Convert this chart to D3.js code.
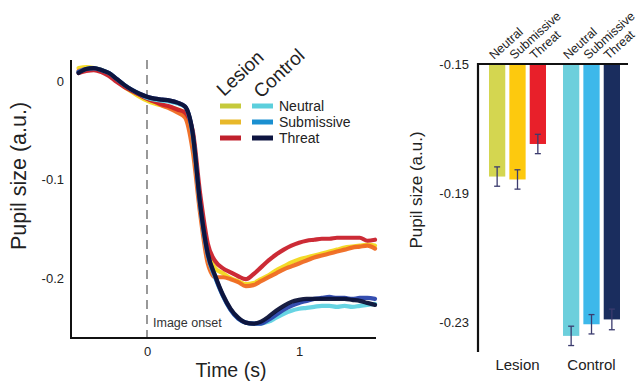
<!DOCTYPE html>
<html>
<head>
<meta charset="utf-8">
<script src="https://cdn.jsdelivr.net/npm/d3@7"></script>
<style>
  html, body { margin: 0; padding: 0; background: #fff; }
  svg { display: block; font-family: "Liberation Sans", Arial, sans-serif; }
</style>
</head>
<body>
<svg id="chart" width="642" height="386"></svg>
<script>
// ---------------- DATA ----------------
const time = [-0.45,-0.40,-0.35,-0.30,-0.25,-0.20,-0.15,-0.10,-0.05,0.00,
              0.05,0.10,0.15,0.20,0.25,0.30,0.35,0.40,0.45,0.50,
              0.55,0.60,0.65,0.70,0.75,0.80,0.85,0.90,0.95,1.00,
              1.05,1.10,1.15,1.20,1.25,1.30,1.35,1.40,1.45,1.50];

const lesionNeutral = [0.013,0.014,0.013,0.011,0.007,0.001,-0.006,-0.011,-0.016,-0.020,
  -0.023,-0.025,-0.027,-0.029,-0.033,-0.060,-0.125,-0.172,-0.190,-0.195,
  -0.200,-0.203,-0.206,-0.205,-0.201,-0.197,-0.192,-0.188,-0.184,-0.181,
  -0.179,-0.177,-0.175,-0.173,-0.171,-0.169,-0.168,-0.167,-0.166,-0.167];
const lesionSubmissive = [0.010,0.012,0.012,0.010,0.007,0.001,-0.005,-0.010,-0.014,-0.018,
  -0.021,-0.025,-0.028,-0.032,-0.037,-0.070,-0.135,-0.185,-0.199,-0.199,
  -0.201,-0.204,-0.208,-0.207,-0.203,-0.199,-0.195,-0.191,-0.188,-0.185,
  -0.182,-0.179,-0.177,-0.175,-0.173,-0.171,-0.169,-0.168,-0.167,-0.170];
const lesionThreat = [0.008,0.010,0.011,0.009,0.005,-0.001,-0.006,-0.010,-0.014,-0.018,
  -0.021,-0.024,-0.026,-0.029,-0.032,-0.050,-0.115,-0.165,-0.183,-0.190,
  -0.194,-0.198,-0.201,-0.196,-0.189,-0.182,-0.176,-0.171,-0.167,-0.164,
  -0.162,-0.161,-0.160,-0.160,-0.159,-0.159,-0.159,-0.159,-0.162,-0.161];
const controlNeutral = [0.009,0.012,0.013,0.011,0.008,0.002,-0.004,-0.009,-0.013,-0.017,
  -0.019,-0.020,-0.021,-0.023,-0.026,-0.054,-0.127,-0.177,-0.200,-0.218,
  -0.232,-0.241,-0.245,-0.246,-0.246,-0.244,-0.240,-0.236,-0.233,-0.231,
  -0.230,-0.229,-0.228,-0.228,-0.229,-0.228,-0.229,-0.228,-0.227,-0.226];
const controlSubmissive = [0.009,0.012,0.013,0.011,0.008,0.002,-0.004,-0.009,-0.013,-0.016,
  -0.018,-0.019,-0.020,-0.022,-0.026,-0.053,-0.126,-0.176,-0.199,-0.218,
  -0.232,-0.241,-0.245,-0.246,-0.246,-0.242,-0.237,-0.232,-0.228,-0.225,
  -0.223,-0.221,-0.220,-0.219,-0.220,-0.220,-0.221,-0.220,-0.220,-0.221];
const controlThreat = [0.008,0.012,0.013,0.011,0.008,0.002,-0.004,-0.009,-0.013,-0.016,
  -0.018,-0.019,-0.020,-0.022,-0.026,-0.052,-0.125,-0.175,-0.198,-0.217,
  -0.231,-0.240,-0.245,-0.246,-0.244,-0.239,-0.233,-0.228,-0.224,-0.222,
  -0.221,-0.221,-0.221,-0.221,-0.221,-0.221,-0.222,-0.223,-0.225,-0.227];

const conditions = ["Neutral", "Submissive", "Threat"];
const groups = ["Lesion", "Control"];

const lineColors = {
  Lesion:  ["#f2d81e", "#ef6a22", "#c9202b"],
  Control: ["#5fd2e2", "#2a44ac", "#0c1238"]
};
const legendColors = {
  Lesion:  ["#c6ca3c", "#e8b82a", "#c0202c"],
  Control: ["#5ccfdc", "#1a8fd0", "#0e1440"]
};

// Bar chart data (mean pupil size, SEM)
const lesionBarMeans = [-0.1849, -0.1858, -0.1748];
const controlBarMeans = [-0.2343, -0.2307, -0.2292];
const lesionBarErr = [0.003, 0.003, 0.003];
const controlBarErr = [0.003, 0.003, 0.0032];
const barColors = {
  Lesion:  ["#d4d650", "#fdc90e", "#e8202a"],
  Control: ["#6ccfdc", "#3db8ea", "#1a2d5e"]
};

const lineYTicks = [0, -0.1, -0.2];
const lineYTickLabels = ["0", "-0.1", "-0.2"];
const lineXTicks = [0, 1];
const lineXTickLabels = ["0", "1"];
const barYTicks = [-0.15, -0.19, -0.23];
const barYTickLabels = ["-0.15", "-0.19", "-0.23"];

// ---------------- DRAW ----------------
const svg = d3.select("#chart");
const textColor = "#222";

// ===== Line chart =====
const x = d3.scaleLinear().domain([-0.5, 1.5]).range([71, 375]);
const y = d3.scaleLinear().domain([0.0212, -0.2606]).range([60, 338]);

const series = [
  {g: "Lesion", i: 0, v: lesionNeutral},
  {g: "Lesion", i: 1, v: lesionSubmissive},
  {g: "Lesion", i: 2, v: lesionThreat},
  {g: "Control", i: 0, v: controlNeutral},
  {g: "Control", i: 1, v: controlSubmissive},
  {g: "Control", i: 2, v: controlThreat}
];

// dashed onset line
svg.append("line")
  .attr("x1", x(0)).attr("x2", x(0))
  .attr("y1", y.range()[0]).attr("y2", y.range()[1])
  .attr("stroke", "#555").attr("stroke-width", 1.2)
  .attr("stroke-dasharray", "9,6");

const line = d3.line()
  .x((d, k) => x(time[k]))
  .y(d => y(d))
  .curve(d3.curveMonotoneX);

svg.append("g").selectAll("path")
  .data(series)
  .join("path")
  .attr("d", s => line(s.v))
  .attr("fill", "none")
  .attr("stroke", s => lineColors[s.g][s.i])
  .attr("stroke-width", 4.2)
  .attr("stroke-linejoin", "round")
  .attr("stroke-linecap", "round")
  .attr("opacity", 0.95);

// axes
const yAxis = d3.axisLeft(y).tickValues(lineYTicks)
  .tickFormat((d, k) => lineYTickLabels[k]).tickSize(0).tickPadding(7);
const gy = svg.append("g").attr("transform", `translate(${x.range()[0]},0)`).call(yAxis);
const xAxis = d3.axisBottom(x).tickValues(lineXTicks)
  .tickFormat((d, k) => lineXTickLabels[k]).tickSize(0).tickPadding(9);
const gx = svg.append("g").attr("transform", `translate(0,${y.range()[1]})`).call(xAxis);
[gx, gy].forEach(g => {
  g.select(".domain").attr("stroke", "#111").attr("stroke-width", 2);
  g.selectAll("text").attr("font-size", 13).attr("fill", textColor)
    .attr("font-family", "Liberation Sans, Arial, sans-serif");
});
gx.select(".domain").attr("d", `M${x.range()[0]},0H${x.range()[1] + 1}`);
gy.select(".domain").attr("d", `M0,${y.range()[0]}V${y.range()[1] + 1}`);

svg.append("text").attr("x", 153).attr("y", 327)
  .attr("font-size", 12.5).attr("fill", "#333").text("Image onset");

svg.append("text").attr("x", 231).attr("y", 377)
  .attr("text-anchor", "middle").attr("font-size", 19.5).attr("fill", textColor)
  .text("Time (s)");
svg.append("text")
  .attr("transform", "translate(26,176) rotate(-90)")
  .attr("text-anchor", "middle").attr("font-size", 21.5).attr("fill", textColor)
  .text("Pupil size (a.u.)");

// legend
const legendX = {Lesion: 220, Control: 252};
const legendY = [106, 122, 138];
groups.forEach(g => {
  conditions.forEach((c, i) => {
    svg.append("line")
      .attr("x1", legendX[g]).attr("x2", legendX[g] + 21)
      .attr("y1", legendY[i]).attr("y2", legendY[i])
      .attr("stroke", legendColors[g][i]).attr("stroke-width", 5);
  });
});
conditions.forEach((c, i) => {
  svg.append("text").attr("x", 279).attr("y", legendY[i] + 5)
    .attr("font-size", 14).attr("fill", textColor).text(c);
});
svg.append("text").attr("transform", "translate(224,97) rotate(-43)")
  .attr("font-size", 19).attr("fill", textColor).text("Lesion");
svg.append("text").attr("transform", "translate(261,99) rotate(-43)")
  .attr("font-size", 19).attr("fill", textColor).text("Control");

// ===== Bar chart =====
const yb = d3.scaleLinear().domain([-0.15, -0.2393]).range([64, 352]);
const xg = d3.scaleBand().domain(groups).range([489, 620]).paddingInner(0.23);
const xc = d3.scaleBand().domain(conditions).range([0, xg.bandwidth()]).paddingInner(0.2);

const barData = [];
groups.forEach(g => {
  const means = g === "Lesion" ? lesionBarMeans : controlBarMeans;
  const errs = g === "Lesion" ? lesionBarErr : controlBarErr;
  conditions.forEach((c, i) => barData.push({g, c, i, m: means[i], e: errs[i]}));
});

const bars = svg.append("g");
bars.selectAll("rect").data(barData).join("rect")
  .attr("x", d => xg(d.g) + xc(d.c))
  .attr("width", xc.bandwidth())
  .attr("y", yb(-0.15))
  .attr("height", d => yb(d.m) - yb(-0.15))
  .attr("fill", d => barColors[d.g][d.i]);

const errG = svg.append("g").attr("stroke", "#3b3b6e").attr("stroke-width", 1.3);
barData.forEach(d => {
  const cx = xg(d.g) + xc(d.c) + xc.bandwidth() / 2;
  errG.append("line").attr("x1", cx).attr("x2", cx)
    .attr("y1", yb(d.m + d.e)).attr("y2", yb(d.m - d.e));
  [d.m + d.e, d.m - d.e].forEach(v => {
    errG.append("line").attr("x1", cx - 3).attr("x2", cx + 3)
      .attr("y1", yb(v)).attr("y2", yb(v));
  });
});

// bar axes
const ybAxis = d3.axisLeft(yb).tickValues(barYTicks)
  .tickFormat((d, k) => barYTickLabels[k]).tickSize(0).tickPadding(9);
const gyb = svg.append("g").attr("transform", "translate(478,0)").call(ybAxis);
gyb.select(".domain").attr("stroke", "#111").attr("stroke-width", 2.2)
  .attr("d", `M0,${yb.range()[0] - 1}V${yb.range()[1]}`);
gyb.selectAll("text").attr("font-size", 13).attr("fill", textColor)
  .attr("font-family", "Liberation Sans, Arial, sans-serif");
svg.append("line").attr("x1", 477).attr("x2", 628)
  .attr("y1", yb(-0.15)).attr("y2", yb(-0.15))
  .attr("stroke", "#111").attr("stroke-width", 2.2);

// rotated condition labels above bars
barData.forEach(d => {
  const lx = xg(d.g) + xc(d.c) + xc.bandwidth() * 0.3;
  svg.append("text")
    .attr("transform", `translate(${lx},60) rotate(-42)`)
    .attr("font-size", 12.5).attr("fill", textColor).text(d.c);
});

// group labels
groups.forEach(g => {
  svg.append("text").attr("x", xg(g) + xg.bandwidth() / 2).attr("y", 370)
    .attr("text-anchor", "middle").attr("font-size", 15).attr("fill", textColor).text(g);
});

svg.append("text")
  .attr("transform", "translate(422,190) rotate(-90)")
  .attr("text-anchor", "middle").attr("font-size", 17).attr("fill", textColor)
  .text("Pupil size (a.u.)");
</script>
</body>
</html>
